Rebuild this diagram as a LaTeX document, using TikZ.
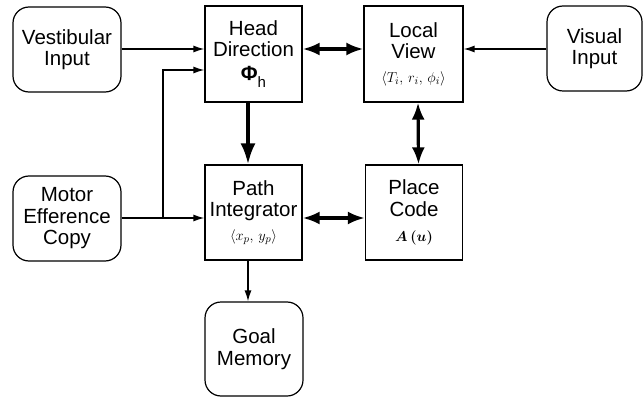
\documentclass[tikz,border=0pt]{standalone}
\usepackage{fontspec}
\setmainfont{Liberation Sans}
\usetikzlibrary{arrows.meta}
\begin{document}
\begin{tikzpicture}[x=1pt,y=-1pt,
  lbl/.style={align=center,font=\fontsize{20.5}{21.5}\selectfont,inner sep=0pt},
  sqbox/.style={lbl,draw,line width=1.2pt,minimum width=97pt,minimum height=96pt},
  rbox/.style={lbl,draw,line width=1.2pt,rounded corners=16pt,minimum width=108pt,minimum height=85pt},
  thin/.style={line width=1.4pt,-{Latex[length=11pt,width=7pt]}},
  thick/.style={line width=3.2pt,{Latex[length=17pt,width=13pt]}-{Latex[length=17pt,width=13pt]}},
  thickone/.style={line width=3.6pt,-{Latex[length=21pt,width=15pt]}},
  mth/.style={font=\fontsize{15}{16}\selectfont}
]
\useasboundingbox (0,0) rectangle (644,398);
\node[rbox] (vest) at (67,49.5) {Vestibular\\Input};
\node[rbox] (motor) at (67,218.5) {Motor\\Efference\\Copy};
\node[rbox,minimum width=95pt] (vis) at (594.5,48.5) {Visual\\Input};
\node[rbox,minimum width=98pt,minimum height=94pt] (goal) at (254,349) {Goal\\Memory};
\node[sqbox] (hd) at (253.5,54) {Head\\Direction\\[2pt]\textbf{Φ}\raisebox{-0.35em}{\fontsize{15}{16}\selectfont h}};
\node[sqbox,minimum width=99pt] (lv) at (413.5,54) {Local\\View\\[2pt]{\fontsize{15}{16}\selectfont$\langle T_i,\, r_i,\, \phi_i\rangle$}};
\node[sqbox,minimum height=95pt] (pi) at (253.5,212.5) {Path\\Integrator\\[2pt]{\fontsize{15}{16}\selectfont$\langle x_p,\, y_p\rangle$}};
\node[sqbox,minimum height=95pt] (pc) at (414,212.5) {Place\\Code\\[4pt]{\fontsize{15}{16}\selectfont\boldmath$A\,(u)$}};
\coordinate (j) at (163,218);
\coordinate (jt) at (163,70);
\draw[thin] (vest.east |- 0,49) -- (hd.west |- 0,49);
\draw[thin] (motor.east |- j) -- (pi.west |- j);
\draw[thin] (j) -- (jt) -- (hd.west |- jt);
\draw[thin] (vis.west |- 0,49) -- (lv.east |- 0,49);
\draw[thick] (hd.east |- 0,49) -- (lv.west |- 0,49);
\draw[thick] (pi.east |- j) -- (pc.west |- j);
\draw[thick] ([xshift=4.5pt]lv.south) -- ([xshift=4.5pt]pc.north);
\draw[thickone] ([xshift=-5.5pt]hd.south) -- ([xshift=-5.5pt]pi.north);
\draw[thin] ([xshift=-5.5pt]pi.south) -- ([xshift=-6pt]goal.north);
\end{tikzpicture}
\end{document}
